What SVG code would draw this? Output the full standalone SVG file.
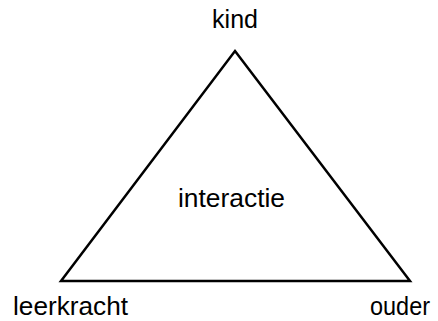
<svg xmlns="http://www.w3.org/2000/svg" width="438" height="321" viewBox="0 0 438 321">
<style>
.t{font-family:"Liberation Sans",Arial,sans-serif;font-size:25px;fill:#000;text-anchor:middle}
.e{fill:none;stroke:#000;stroke-width:2.5;stroke-linejoin:miter}
</style>
<rect width="438" height="321" fill="#fff"/>
<g id="connectors">
<path class="e" d="M235,51 L410,281 L61,281 Z"/>
</g>
<g id="kind"><text class="t" x="235" y="28" textLength="46">kind</text></g>
<g id="interactie"><text class="t" x="231.5" y="207" textLength="107" lengthAdjust="spacingAndGlyphs">interactie</text></g>
<g id="leerkracht"><text class="t" x="70.5" y="315" textLength="115" lengthAdjust="spacingAndGlyphs">leerkracht</text></g>
<g id="ouder"><text class="t" x="400" y="315" textLength="60" lengthAdjust="spacingAndGlyphs">ouder</text></g>
</svg>
